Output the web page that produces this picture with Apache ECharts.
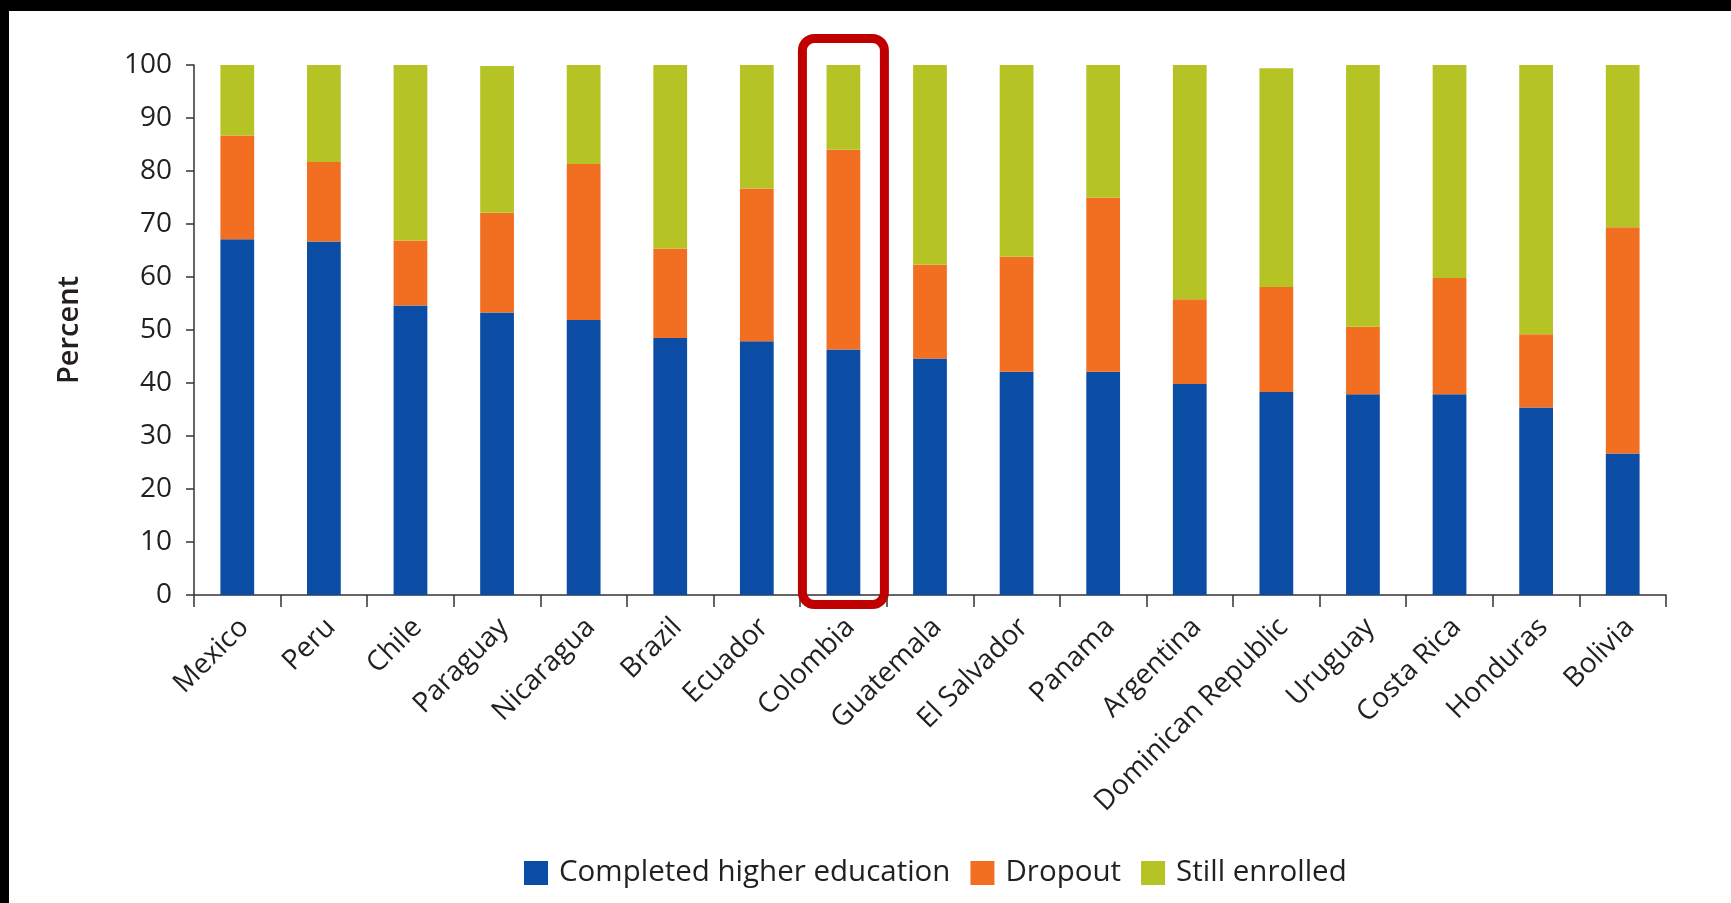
<!DOCTYPE html>
<html>
<head>
<meta charset="utf-8">
<script src="https://cdn.jsdelivr.net/npm/echarts@6/dist/echarts.min.js"></script>
<style>
html,body{margin:0;padding:0;background:#fff;}
#chart{width:1731px;height:903px;}
</style>
</head>
<body>
<div id="chart"></div>
<script>
const categories = ['Mexico','Peru','Chile','Paraguay','Nicaragua','Brazil','Ecuador','Colombia','Guatemala','El Salvador','Panama','Argentina','Dominican Republic','Uruguay','Costa Rica','Honduras','Bolivia'];
const completed = [67.1, 66.7, 54.6, 53.3, 51.9, 48.5, 47.9, 46.3, 44.6, 42.1, 42.1, 39.8, 38.3, 37.9, 37.9, 35.4, 26.7];
const dropout = [19.6, 15.0, 12.3, 18.8, 29.4, 16.9, 28.8, 37.7, 17.7, 21.7, 32.9, 16.0, 19.8, 12.7, 21.9, 13.8, 42.7];
const stillEnrolled = [13.3, 18.3, 33.1, 27.7, 18.7, 34.6, 23.3, 16.0, 37.7, 36.2, 25.0, 44.2, 41.3, 49.4, 40.2, 50.8, 30.6];
const seriesNames = ['Completed higher education','Dropout','Still enrolled'];
const highlighted = 'Colombia';

const FONT = '"Open Sans", "Noto Sans", sans-serif';
const TXT = '#231f20';
const colors = ['#0b4da4', '#f26f22', '#b5c424'];

const chart = echarts.init(document.getElementById('chart'), null, {renderer: 'canvas'});

const mk = (name, data, i) => ({
  name: name, type: 'bar', stack: 'total', data: data,
  barWidth: '39%',
  itemStyle: {color: colors[i]},
  emphasis: {disabled: true}
});

chart.setOption({
  animation: false,
  backgroundColor: '#ffffff',
  textStyle: {fontFamily: FONT},
  grid: {left: 194, right: 65, top: 65, bottom: 308},
  legend: {
    bottom: 10, left: 519,
    itemWidth: 24, itemHeight: 24, itemGap: 20,
    icon: 'rect',
    textStyle: {fontFamily: FONT, fontSize: 29.5, color: TXT, padding: [0, 0, 0, 6]},
    data: seriesNames
  },
  xAxis: {
    type: 'category', data: categories,
    axisLine: {show: true, lineStyle: {color: '#333', width: 1.5}},
    axisTick: {show: true, length: 12, lineStyle: {color: '#333', width: 1.5}},
    axisLabel: {rotate: 45, margin: 35, fontSize: 28, color: TXT, fontFamily: FONT, interval: 0, padding: [0, -10, 0, 0]}
  },
  yAxis: {
    type: 'value', min: 0, max: 100, interval: 10,
    name: 'Percent', nameLocation: 'middle', nameGap: 110,
    nameTextStyle: {fontSize: 29, fontWeight: 600, color: TXT, fontFamily: FONT},
    splitLine: {show: false},
    axisLine: {show: true, lineStyle: {color: '#333', width: 1.5}},
    axisTick: {show: true, length: 8, lineStyle: {color: '#333', width: 1.5}},
    axisLabel: {fontSize: 28, color: TXT, margin: 22, fontFamily: FONT}
  },
  series: [
    mk(seriesNames[0], completed, 0),
    mk(seriesNames[1], dropout, 1),
    mk(seriesNames[2], stillEnrolled, 2)
  ]
});

// Highlight frame around the Colombia bar, positioned from the axes
const cx = chart.convertToPixel({xAxisIndex: 0}, highlighted);
const yTop = chart.convertToPixel({yAxisIndex: 0}, 100);
const yBot = chart.convertToPixel({yAxisIndex: 0}, 0);
const halfW = 41;
chart.setOption({
  graphic: [
    {type: 'rect', z: 100, shape: {x: 0, y: 0, width: 1731, height: 11}, style: {fill: '#000'}},
    {type: 'rect', z: 100, shape: {x: 0, y: 0, width: 9, height: 903}, style: {fill: '#000'}},
    {type: 'rect', z: 90,
     shape: {x: cx - halfW, y: yTop - 26.5, width: halfW * 2, height: (yBot - yTop) + 26.5 + 9.5, r: 12},
     style: {fill: 'none', stroke: '#c00000', lineWidth: 9}}
  ]
});
</script>
</body>
</html>
